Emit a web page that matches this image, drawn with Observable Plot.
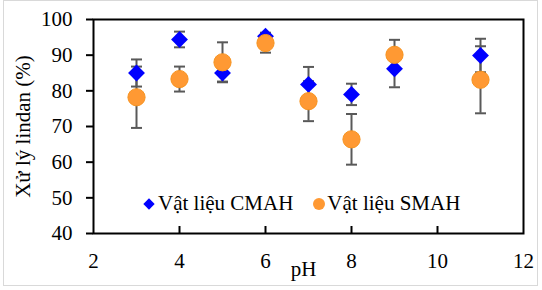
<!DOCTYPE html>
<html>
<head>
<meta charset="utf-8">
<script src="https://cdn.jsdelivr.net/npm/d3@7"></script>
<script src="https://cdn.jsdelivr.net/npm/@observablehq/plot@0.6"></script>
<style>
  html, body { margin: 0; padding: 0; background: #fff; }
  #wrap { position: relative; width: 542px; height: 290px; font-family: "Liberation Serif", "Times New Roman", serif; }
  #wrap svg, #wrap svg text { font-family: "Liberation Serif", "Times New Roman", serif !important; }
  #border { position: absolute; left: 3px; top: 0px; width: 535px; height: 286px; border: 1px solid #d9d9d9; box-sizing: border-box; pointer-events: none; }
  #legend { position: absolute; top: 191px; left: 143px; font-size: 21px; color: #000; white-space: nowrap; display: flex; align-items: center; }
  .sym { display: inline-block; margin-right: 3px; }
  .diam { width: 8px; height: 8px; background: #0000ff; transform: rotate(45deg); margin-left: 2px; margin-right: 5px; }
  .circ { width: 12px; height: 12px; border-radius: 50%; background: #ff9933; margin-left: 20px; margin-right: 2px; }
</style>
</head>
<body>
<div id="wrap"><div id="border"></div></div>
<script>
const pH = [3, 4, 5, 6, 7, 8, 9, 11];
const cmah = [85.0, 94.4, 85.0, 95.3, 81.8, 79.0, 86.2, 89.9];
const cmahErr = [3.8, 2.2, 2.4, 1.0, 4.9, 3.0, 5.2, 4.7];
const smah = [78.2, 83.3, 88.0, 93.4, 77.1, 66.4, 90.1, 83.1];
const smahErr = [8.6, 3.5, 5.6, 2.7, 5.6, 7.1, 4.2, 9.4];
const seriesNames = ["Vật liệu CMAH", "Vật liệu SMAH"];
const xTicks = [2, 4, 6, 8, 10, 12];
const yTicks = [40, 50, 60, 70, 80, 90, 100];

const rows = [];
pH.forEach((p, i) => {
  rows.push({pH: p, v: cmah[i], e: cmahErr[i], s: seriesNames[0]});
  rows.push({pH: p, v: smah[i], e: smahErr[i], s: seriesNames[1]});
});
const A = rows.filter(d => d.s === seriesNames[0]);
const B = rows.filter(d => d.s === seriesNames[1]);

const capSymbol = { draw(ctx, size) { const w = 5.5; ctx.moveTo(-w, 0); ctx.lineTo(w, 0); } };
const errColor = "#595959";
const serif = "Liberation Serif";

const chart = Plot.plot({
  width: 542,
  height: 290,
  marginLeft: 93,
  marginRight: 19,
  marginTop: 19,
  marginBottom: 57,
  style: { fontFamily: serif, fontSize: "21px", color: "#000", background: "transparent" },
  x: { domain: [2, 12] },
  y: { domain: [40, 100] },
  marks: [
    Plot.axisY(yTicks, { tickSize: 7, tickPadding: 14, strokeWidth: 2, label: "Xử lý lindan (%)", labelAnchor: "center", labelOffset: 78, labelArrow: "none", fontSize: 21, fontFamily: serif }),
    Plot.axisX(xTicks, { tickSize: 0, tickPadding: 20, label: null, fontSize: 21, fontFamily: serif }),
    Plot.ruleX(xTicks.slice(1, -1), { x: d => d, insetTop: 207, stroke: "#000", strokeWidth: 2 }),
    Plot.text(["pH"], { frameAnchor: "bottom", dx: -5, dy: 42, text: d => d, fontSize: 21, fontFamily: serif }),
    Plot.ruleX(rows, { x: "pH", y1: d => d.v - d.e, y2: d => d.v + d.e, stroke: errColor, strokeWidth: 2 }),
    Plot.dot(rows, { x: "pH", y: d => d.v - d.e, symbol: capSymbol, stroke: errColor, strokeWidth: 2, r: 3 }),
    Plot.dot(rows, { x: "pH", y: d => d.v + d.e, symbol: capSymbol, stroke: errColor, strokeWidth: 2, r: 3 }),
    Plot.dot(A, { x: "pH", y: "v", symbol: "diamond2", r: 7.6, fill: "#0000ff", stroke: "none" }),
    Plot.dot(B, { x: "pH", y: "v", symbol: "circle", r: 8.6, fill: "#ff9933", stroke: "#f79420", strokeWidth: 1 }),
    Plot.frame({ stroke: "#000", strokeWidth: 2 })
  ]
});
const wrap = document.getElementById("wrap");
wrap.insertBefore(chart, wrap.firstChild);

const legend = document.createElement("div");
legend.id = "legend";
legend.innerHTML = `<span class="sym diam"></span><span>${seriesNames[0]}</span><span class="sym circ"></span><span>${seriesNames[1]}</span>`;
wrap.appendChild(legend);
</script>
</body>
</html>
